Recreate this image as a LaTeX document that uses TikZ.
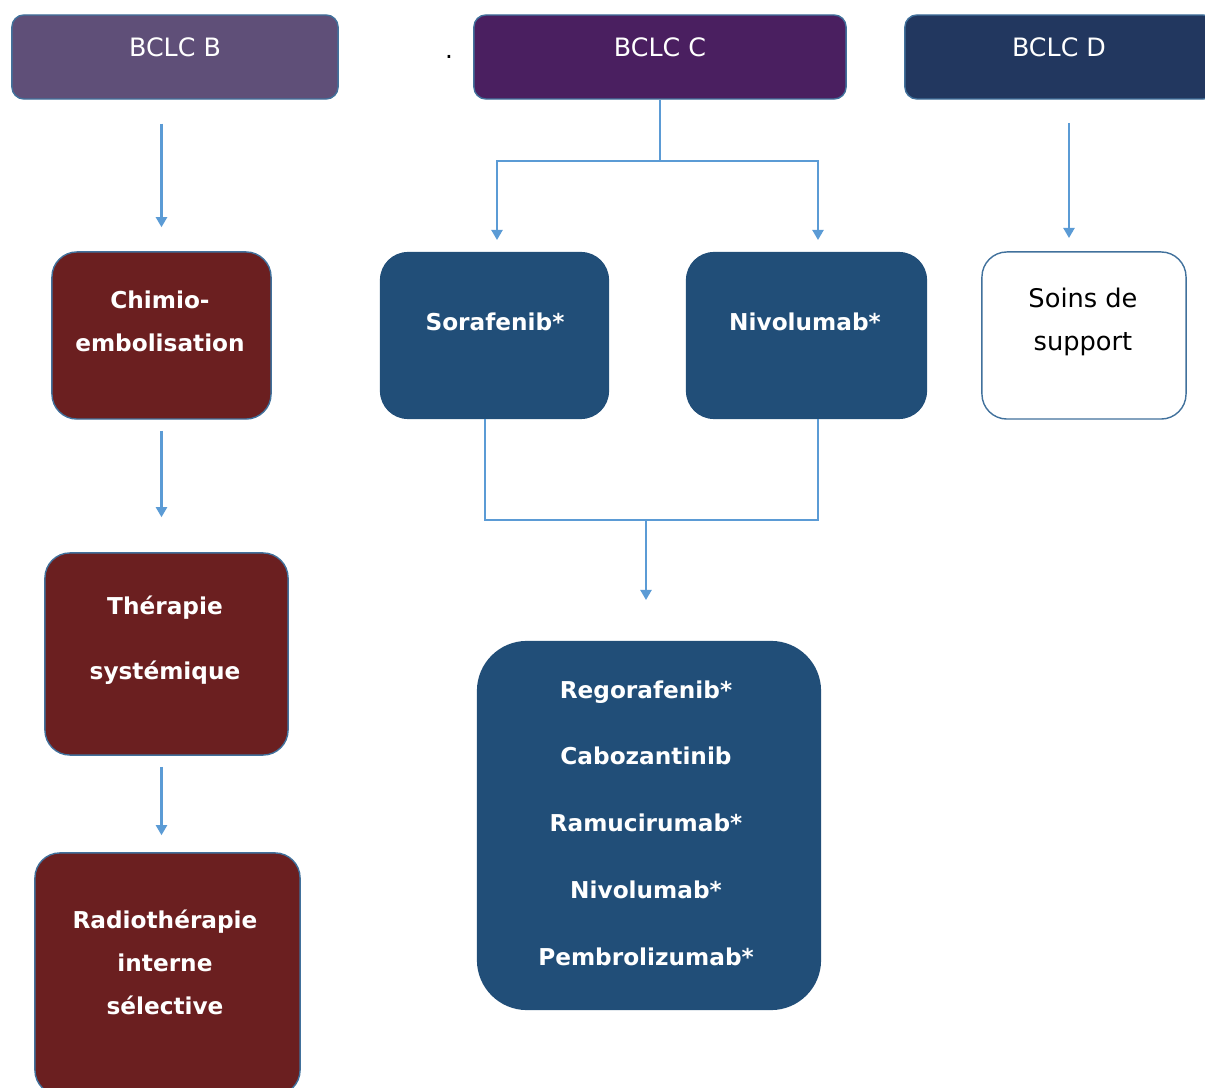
\documentclass[tikz,border=0pt]{standalone}
\usepackage{fontspec}
\setmainfont{DejaVu Sans}
\usetikzlibrary{arrows.meta}
\definecolor{bclcB}{HTML}{5F4F78}
\definecolor{bclcC}{HTML}{4A1F60}
\definecolor{bclcD}{HTML}{22375F}
\definecolor{redbox}{HTML}{6B1F20}
\definecolor{bluebox}{HTML}{214E78}
\definecolor{edgeblue}{HTML}{41719C}
\definecolor{lineblue}{HTML}{5B9BD5}
\begin{document}
\begin{tikzpicture}[x=0.01cm,y=-0.01cm,
    box/.style={draw=edgeblue,line width=0.4pt,rounded corners=0.25cm,inner sep=0pt},
    hdr/.style={box,rounded corners=0.12cm,minimum height=0.84cm},
    txt/.style={text=white,font=\fontsize{6.6}{12.2}\selectfont\bfseries,align=center,inner sep=0pt},
    hdrtxt/.style={text=white,font=\fontsize{7.2}{9}\selectfont,inner sep=0pt},
    conn/.style={draw=lineblue,line width=0.6pt},
    arr/.style={conn,-{Triangle[width=0.11cm,length=0.1cm]}}]
    \path[use as bounding box,clip] (0,0) rectangle (1205,1088);
    % headers
    \node [hdr,fill=bclcB,minimum width=3.26cm] (hb) at (175,57) {};
    \node [hdr,fill=bclcC,minimum width=3.72cm] (hc) at (660,57) {};
    \node [hdr,fill=bclcD,minimum width=3.10cm] (hd) at (1060,57) {};
    \node [hdrtxt] (hbt) at (175,47) {BCLC B};
    \node [hdrtxt] (hct) at (660,47) {BCLC C};
    \node [hdrtxt] (hdt) at (1059,47) {BCLC D};
    \node [anchor=base,inner sep=0pt,font=\fontsize{7}{9}\selectfont] (dot) at (449,59) {.};
    % BCLC B column
    \node [box,fill=redbox,minimum width=2.19cm,minimum height=1.67cm] (chimio) at (161.5,335.5) {};
    \node [box,fill=redbox,minimum width=2.43cm,minimum height=2.02cm] (thera) at (166.5,654) {};
    \node [box,fill=redbox,minimum width=2.65cm,minimum height=2.42cm] (radio) at (167.5,974) {};
    \node [txt] (chimiot) at (160,321.5) {Chimio-\\embolisation};
    \node [txt,font=\fontsize{6.6}{18.5}\selectfont\bfseries] (therat) at (165,640.5) {Thérapie\\systémique};
    \node [txt] (radiot) at (165,962) {Radiothérapie\\interne\\sélective};
    % BCLC C column
    \node [box,draw=none,fill=bluebox,minimum width=2.29cm,minimum height=1.67cm,rounded corners=0.28cm] (sora) at (494.5,335.5) {};
    \node [box,draw=none,fill=bluebox,minimum width=2.41cm,minimum height=1.67cm,rounded corners=0.28cm] (nivo) at (806.5,335.5) {};
    \node [box,draw=none,fill=bluebox,minimum width=3.44cm,minimum height=3.69cm,rounded corners=0.5cm] (seconde) at (649,825.5) {};
    \node [txt] (sorat) at (495,322) {Sorafenib*};
    \node [txt] (nivot) at (805,322) {Nivolumab*};
    \node [txt,font=\fontsize{6.6}{19}\selectfont\bfseries] (secondet) at (646,823) {Regorafenib*\\Cabozantinib\\Ramucirumab*\\Nivolumab*\\Pembrolizumab*};
    % BCLC D column
    \node [box,fill=white,minimum width=2.04cm,minimum height=1.67cm] (soins) at (1084,335.5) {};
    \node [align=center,inner sep=0pt,font=\fontsize{7.3}{12.2}\selectfont] (soinst) at (1083,321.5) {Soins de\\support};
    % connectors
    \coordinate (cjoin) at (660,161);
    \coordinate (sIn) at (497,240);
    \coordinate (nIn) at (818,240);
    \coordinate (sOut) at (485,419);
    \coordinate (nOut) at (818,419);
    \coordinate (merge) at (646,520);
    \coordinate (secIn) at (646,600);
    \coordinate (dOut) at (1069,123);
    \coordinate (dIn) at (1069,238);
    \draw [arr] ([yshift=-0.24cm]hb.south -| chimio.north) -- ([yshift=0.24cm]chimio.north);
    \draw [arr] ([yshift=-0.11cm]chimio.south) -- ([yshift=0.35cm]chimio.south |- thera.north);
    \draw [arr] ([yshift=-0.11cm]chimio.south |- thera.south) -- ([yshift=0.17cm]chimio.south |- radio.north);
    \draw [conn] (hc.south) -- (cjoin);
    \draw [arr] (cjoin) -| (sIn);
    \draw [arr] (cjoin) -| (nIn);
    \draw [conn] (sOut) |- (merge) -| (nOut);
    \draw [arr] (merge) -- (secIn);
    \draw [arr] (dOut) -- (dIn);
\end{tikzpicture}
\end{document}
